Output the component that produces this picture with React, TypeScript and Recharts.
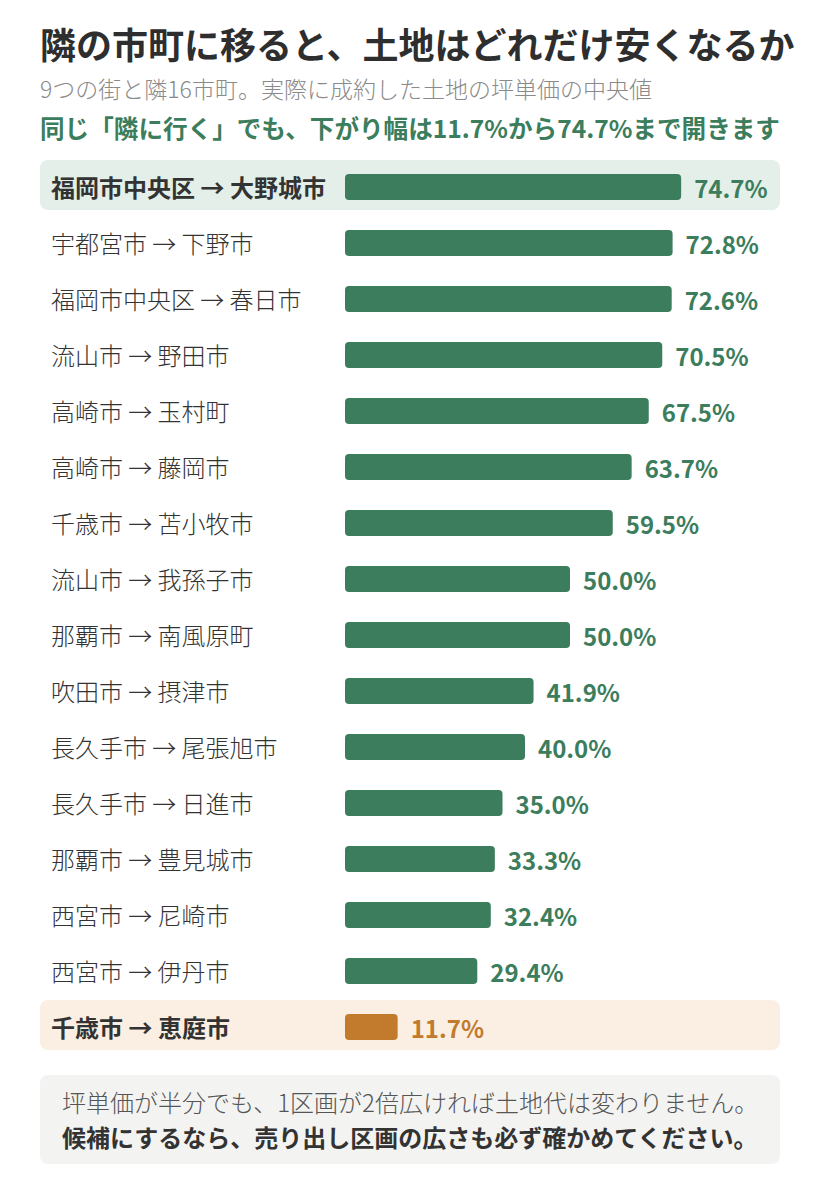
import React from 'react';
import { BarChart, Bar, XAxis, YAxis, LabelList } from 'recharts';

const categories = [
  '福岡市中央区 → 大野城市',
  '宇都宮市 → 下野市',
  '福岡市中央区 → 春日市',
  '流山市 → 野田市',
  '高崎市 → 玉村町',
  '高崎市 → 藤岡市',
  '千歳市 → 苫小牧市',
  '流山市 → 我孫子市',
  '那覇市 → 南風原町',
  '吹田市 → 摂津市',
  '長久手市 → 尾張旭市',
  '長久手市 → 日進市',
  '那覇市 → 豊見城市',
  '西宮市 → 尼崎市',
  '西宮市 → 伊丹市',
  '千歳市 → 恵庭市',
];
const dropValues = [74.7, 72.8, 72.6, 70.5, 67.5, 63.7, 59.5, 50.0, 50.0, 41.9, 40.0, 35.0, 33.3, 32.4, 29.4, 11.7];
const highlightKinds = ['max', '', '', '', '', '', '', '', '', '', '', '', '', '', '', 'min'];

const title = '隣の市町に移ると、土地はどれだけ安くなるか';
const subtitle = '9つの街と隣16市町。実際に成約した土地の坪単価の中央値';
const lead = '同じ「隣に行く」でも、下がり幅は11.7%から74.7%まで開きます';
const note1 = '坪単価が半分でも、1区画が2倍広ければ土地代は変わりません。';
const note2 = '候補にするなら、売り出し区画の広さも必ず確かめてください。';

const data = categories.map((name, i) => ({ name, value: dropValues[i], kind: highlightKinds[i] }));

const FONT = '"Noto Sans CJK JP", "Noto Sans", sans-serif';
const GREEN = '#3b7d5c';
const ORANGE = '#c27a2c';
const GREEN_BG = '#e3efe8';
const ORANGE_BG = '#faefe2';
const TEXT = '#333333';

const ROW_BG_LEFT = 305;
const ROW_BG_RIGHT_INSET = 15;

const BarBg = (props: any) => {
  const { x, y, width, height, index } = props;
  const kind = highlightKinds[index];
  if (!kind) return <g />;
  const cy = y + height / 2 - 2;
  return (
    <rect
      x={x - ROW_BG_LEFT}
      y={cy - 25}
      width={width + ROW_BG_LEFT - ROW_BG_RIGHT_INSET}
      height={50}
      rx={8}
      ry={8}
      fill={kind === 'min' ? ORANGE_BG : GREEN_BG}
    />
  );
};

const BarShape = (props: any) => {
  const { x, y, width, height, index } = props;
  const kind = highlightKinds[index];
  return <rect x={x} y={y} width={width} height={height} rx={4} ry={4} fill={kind === 'min' ? ORANGE : GREEN} />;
};

const CatTick = (props: any) => {
  const { y, payload, index } = props;
  const kind = highlightKinds[index];
  return (
    <text
      x={11}
      y={y - 1}
      dominantBaseline="central"
      textAnchor="start"
      fontFamily={FONT}
      fontSize={24}
      fontWeight={kind ? 700 : 300}
      fill={TEXT}
    >
      {payload.value}
    </text>
  );
};

const ValueLabel = (props: any) => {
  const { x, y, width, height, value, index } = props;
  const kind = highlightKinds[index];
  return (
    <text
      x={x + width + 13}
      y={y + height / 2}
      dominantBaseline="central"
      textAnchor="start"
      fontFamily={FONT}
      fontSize={24}
      fontWeight={700}
      fill={kind === 'min' ? ORANGE : GREEN}
    >
      {`${Number(value).toFixed(1)}%`}
    </text>
  );
};

export default function App() {
  return (
    <div style={{ position: 'relative', width: 804, height: 1175, fontFamily: FONT, color: TEXT }}>
      <div style={{ position: 'absolute', left: 32, top: 17, fontSize: 36, lineHeight: '36px', fontWeight: 700, whiteSpace: 'nowrap', color: '#2e2e2e' }}>
        {title}
      </div>
      <div style={{ position: 'absolute', left: 32, top: 69, fontSize: 23, lineHeight: '23px', fontWeight: 300, whiteSpace: 'nowrap', color: '#8a8a8a' }}>
        {subtitle}
      </div>
      <div style={{ position: 'absolute', left: 32, top: 107, fontSize: 24.6, lineHeight: '25px', fontWeight: 700, whiteSpace: 'nowrap', color: GREEN }}>
        {lead}
      </div>
      <div style={{ position: 'absolute', left: 32, top: 151 }}>
        <BarChart
          width={755}
          height={896}
          data={data}
          layout="vertical"
          margin={{ top: 0, right: 0, bottom: 0, left: 0 }}
          barSize={26}
        >
          <XAxis type="number" domain={[0, 100]} hide />
          <Bar dataKey="value" isAnimationActive={false} background={<BarBg />} shape={<BarShape />}>
            <LabelList dataKey="value" content={<ValueLabel />} />
          </Bar>
          <YAxis
            type="category"
            dataKey="name"
            width={305}
            axisLine={false}
            tickLine={false}
            interval={0}
            tick={<CatTick />}
          />
        </BarChart>
      </div>
      <div
        style={{
          position: 'absolute',
          left: 32,
          top: 1067,
          width: 740,
          height: 89,
          boxSizing: 'border-box',
          background: '#f3f3f2',
          borderRadius: 8,
          padding: '9px 22px 0 22px',
          fontSize: 24,
          lineHeight: '35px',
          whiteSpace: 'nowrap',
        }}
      >
        <div style={{ color: '#555', fontWeight: 300 }}>{note1}</div>
        <div style={{ color: '#333', fontWeight: 700 }}>{note2}</div>
      </div>
    </div>
  );
}
